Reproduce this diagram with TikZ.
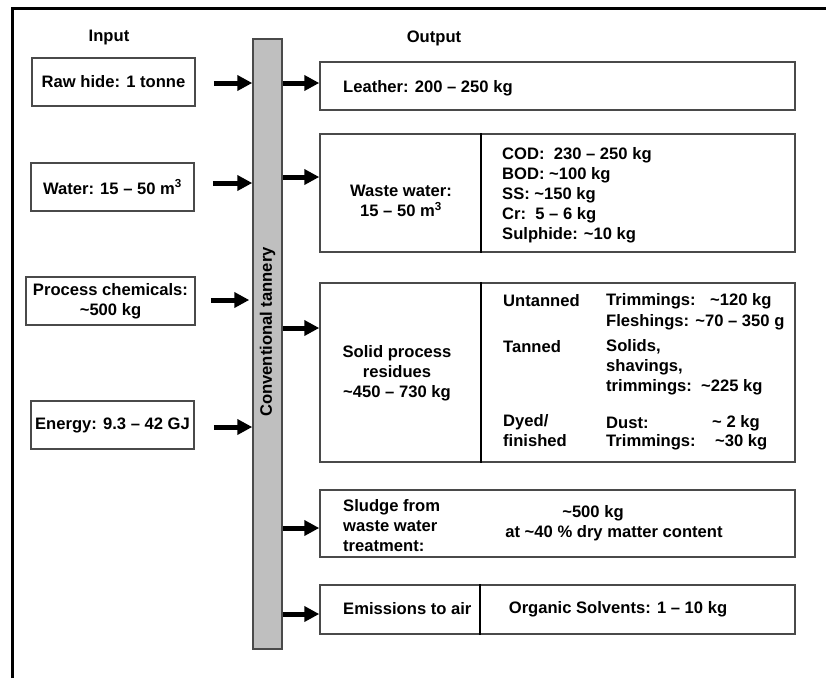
\documentclass[tikz,border=0pt]{standalone}
\usepackage{fontspec}
\setmainfont{Liberation Sans}
\usetikzlibrary{arrows.meta, positioning, calc}
\definecolor{framegray}{HTML}{4a4a4a}
\definecolor{bargray}{HTML}{bfbfbf}

\begin{document}
\begin{tikzpicture}[
  x=1pt, y=-1pt,
  every node/.style={font=\fontsize{16.6}{20}\selectfont\bfseries},
  inbox/.style={rectangle, draw=framegray, line width=1.5pt, minimum width=163pt, minimum height=48pt, align=center, inner sep=0pt},
  outbox/.style={rectangle, draw=framegray, line width=1.5pt, minimum width=475pt, inner sep=0pt},
  txt/.style={inner sep=0pt, align=left, anchor=west},
  ctxt/.style={inner sep=0pt, align=center},
  divider/.style={line width=1.8pt, black},
  flow/.style={-{Triangle[length=15pt,width=15pt]}, line width=5pt, black}
]
\useasboundingbox (0,0) rectangle (826,678);
\draw[line width=3pt] (12,678) -- (12,8) -- (826,8);

\node (input) at (109,38) {Input};
\node (output) at (434,38) {Output};

\node[inbox] (raw) at (113.5,82) {Raw hide: 1 tonne};
\node[inbox] (water) at (112.5,187) {Water: 15 – 50 m\textsuperscript{3}};
\node[inbox, minimum width=169pt] (chem) at (110.5,301) {Process chemicals:\\\textasciitilde500 kg};
\node[inbox] (energy) at (112.5,425) {Energy: 9.3 – 42 GJ};

\node[rectangle, draw=framegray, fill=bargray, line width=1.5pt, minimum width=29pt, minimum height=610pt, inner sep=0pt] (bar) at (267.5,344) {};
\node[rotate=90] (tannery) at (267.5,332) {Conventional tannery};

\node[outbox, minimum height=48pt] (leather) at (557.5,86) {};
\node[txt] (leathertxt) at (343,88) {Leather: 200 – 250 kg};

\node[outbox, minimum height=118pt] (waste) at (557.5,193) {};
\draw[divider] ([xshift=162pt]waste.north west) -- ([xshift=162pt]waste.south west);
\node[ctxt] (wastetxt) at (401,201) {Waste water:\\15 – 50 m\textsuperscript{3}};
\node[txt] (wastelist) at (502,195) {COD:\ \ 230 – 250 kg\\BOD: \textasciitilde100 kg\\SS: \textasciitilde150 kg\\Cr:\ \ 5 – 6 kg\\Sulphide: \textasciitilde10 kg};

\node[outbox, minimum height=179pt] (solid) at (557.5,372.5) {};
\draw[divider] ([xshift=162pt]solid.north west) -- ([xshift=162pt]solid.south west);
\node[ctxt] (solidtxt) at (397,373) {Solid process\\residues\\\textasciitilde450 – 730 kg};
\node[txt] (untanned) at (503,301) {Untanned};
\node[txt] (tanned) at (503,347) {Tanned};
\node[txt] (dyed) at (503,431) {Dyed/\\finished};
\node[txt] (trimu) at (606,301) {Trimmings:};
\node[txt] (trimuamt) at (710,301) {\textasciitilde120 kg};
\node[txt] (flesh) at (606,322) {Fleshings: \textasciitilde70 – 350 g};
\node[txt] (shav) at (606,367) {Solids,\\shavings,\\trimmings:\ \ \textasciitilde225 kg};
\node[txt] (dust) at (606,423) {Dust:};
\node[txt] (dustamt) at (712,423) {\textasciitilde\ 2 kg};
\node[txt] (trimd) at (606,442) {Trimmings:};
\node[txt] (trimdamt) at (715,442) {\textasciitilde30 kg};

\node[outbox, minimum height=67pt] (sludge) at (557.5,523.5) {};
\node[txt] (sludgetxt) at (343,526) {Sludge from\\waste water\\treatment:};
\node[ctxt] (sludgeamt) at (593,513) {\textasciitilde500 kg};
\node[ctxt] (sludgedm) at (614,533) {at \textasciitilde40 \% dry matter content};

\node[outbox, minimum height=49pt] (emis) at (557.5,609.5) {};
\draw[divider] ([xshift=161pt]emis.north west) -- ([xshift=161pt]emis.south west);
\node[txt] (emistxt) at (343,609) {Emissions to air};
\node[ctxt] (solvents) at (618,609) {Organic Solvents: 1 – 10 kg};

\coordinate (rawout) at ($(raw.east)+(18,1)$);
\coordinate (waterout) at ($(water.east)+(18,-4)$);
\coordinate (chemout) at ($(chem.east)+(15,-1)$);
\coordinate (energyout) at ($(energy.east)+(19,2)$);
\draw[flow] (rawout) -- (rawout -| bar.west);
\draw[flow] (waterout) -- (waterout -| bar.west);
\draw[flow] (chemout) -- ($(chemout -| bar.west)+(-3,0)$);
\draw[flow] (energyout) -- (energyout -| bar.west);

\coordinate (leatherin) at ($(leather.west)+(0,-3)$);
\coordinate (wastein) at ($(waste.west)+(0,-16)$);
\coordinate (solidin) at ($(solid.west)+(0,-44.5)$);
\coordinate (sludgein) at ($(sludge.west)+(0,4.5)$);
\coordinate (emisin) at ($(emis.west)+(0,4.5)$);
\draw[flow] (bar.east |- leatherin) -- (leatherin);
\draw[flow] (bar.east |- wastein) -- (wastein);
\draw[flow] (bar.east |- solidin) -- (solidin);
\draw[flow] (bar.east |- sludgein) -- (sludgein);
\draw[flow] (bar.east |- emisin) -- (emisin);
\end{tikzpicture}
\end{document}
